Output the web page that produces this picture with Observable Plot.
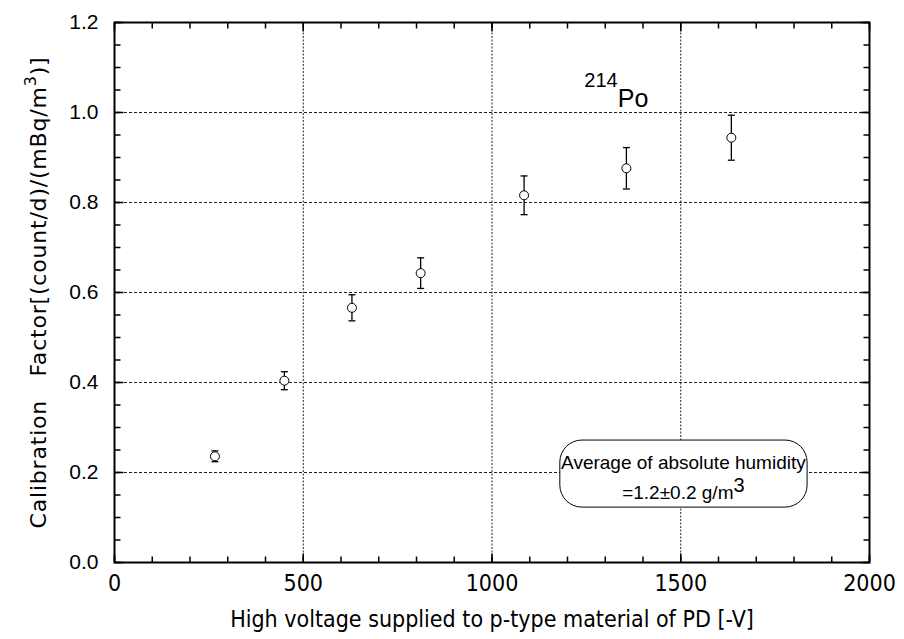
<!DOCTYPE html>
<html>
<head>
<meta charset="utf-8">
<script src="https://cdn.jsdelivr.net/npm/d3@7"></script>
<script src="https://cdn.jsdelivr.net/npm/@observablehq/plot@0.6"></script>
<style>
  html, body { margin: 0; padding: 0; background: #fff; }
  #chart svg { display: block; }
</style>
</head>
<body>
<div id="chart"></div>
<script>
// ---- data ----
const voltage = [266, 450, 629, 811, 1085, 1356, 1634];
const factor  = [0.236, 0.404, 0.566, 0.643, 0.816, 0.876, 0.944];
const errors  = [0.012, 0.020, 0.029, 0.034, 0.043, 0.046, 0.050];

const xMajor = [0, 500, 1000, 1500, 2000];
const xMinor = d3.range(0, 2001, 100);
const yMajor = [0, 0.2, 0.4, 0.6, 0.8, 1.0, 1.2];
const yMinor = d3.range(0, 1.2001, 0.05).map(v => +v.toFixed(2));
const xGrid = [500, 1000, 1500];
const yGrid = [0.2, 0.4, 0.6, 0.8, 1.0];

const xLabel = "High voltage supplied to p-type material of PD [-V]";
const yLabel = "Calibration   Factor[(count/d)/(mBq/m3)]";
const nuclide = [{x: 1340, y: 1.03, text: "214Po"}];
const noteBox = [{x1: 1181, x2: 1836, y1: 0.122, y2: 0.271}];
const noteLines = [
  {x: 1507, y: 0.222, text: "Average of absolute humidity"},
  {x: 1507, y: 0.154, text: "=1.2\u00B10.2 g/m3"}
];

const data = voltage.map((v, i) => ({x: v, y: factor[i], e: errors[i]}));

// ---- custom line-segment symbols (length = r in px) ----
const seg = (dx, dy) => ({draw(ctx, size) {
  const r = Math.sqrt(size / Math.PI);
  ctx.moveTo(0, 0); ctx.lineTo(dx * r, dy * r);
}});
const capSym = {draw(ctx, size) {
  const r = Math.sqrt(size / Math.PI);
  ctx.moveTo(-r, 0); ctx.lineTo(r, 0);
}};

const FONT = "'Liberation Sans', Arial, Helvetica, sans-serif";
const COND = "'DejaVu Sans Condensed', 'Liberation Sans Narrow', 'Liberation Sans', sans-serif";
const WIDE = "'DejaVu Sans', 'Liberation Sans', sans-serif";

const chart = Plot.plot({
  width: 904,
  height: 639,
  marginLeft: 114,
  marginRight: 35,
  marginTop: 22,
  marginBottom: 77,
  style: {fontFamily: FONT, fontSize: "20px", background: "#fff", color: "#000"},
  x: {domain: [0, 2000]},
  y: {domain: [0, 1.2]},
  marks: [
    Plot.ruleX(xGrid, {stroke: "#222", strokeWidth: 1, strokeDasharray: "2,1.5"}),
    Plot.ruleY(yGrid, {stroke: "#222", strokeWidth: 1, strokeDasharray: "3,2"}),
    Plot.rect(noteBox, {x1: "x1", x2: "x2", y1: "y1", y2: "y2", rx: 22,
      fill: "#fff", stroke: "#000", strokeWidth: 1}),
    Plot.frame({stroke: "#000", strokeWidth: 2}),
    Plot.axisX({ticks: xMajor, tickSize: 0, tickPadding: 12, tickFormat: d3.format("d"),
      label: xLabel, labelAnchor: "center", labelOffset: 64, labelArrow: "none",
      fontFamily: COND, fontSize: 23}),
    Plot.axisY({ticks: yMajor, tickSize: 0, tickPadding: 16, tickFormat: d3.format(".1f"),
      label: yLabel, labelAnchor: "center", labelOffset: 84, labelArrow: "none",
      fontFamily: FONT, fontSize: 21}),
    // inward ticks on all four sides
    Plot.dot(xMinor, {x: d => d, y: 0, symbol: seg(0, -1), r: 6, fill: "none", stroke: "#000", strokeWidth: 1.5}),
    Plot.dot(xMinor, {x: d => d, y: 1.2, symbol: seg(0, 1), r: 6, fill: "none", stroke: "#000", strokeWidth: 1.5}),
    Plot.dot(yMinor, {y: d => d, x: 0, symbol: seg(1, 0), r: 6, fill: "none", stroke: "#000", strokeWidth: 1.5}),
    Plot.dot(yMinor, {y: d => d, x: 2000, symbol: seg(-1, 0), r: 6, fill: "none", stroke: "#000", strokeWidth: 1.5}),
    Plot.dot(xMajor, {x: d => d, y: 0, symbol: seg(0, -1), r: 9, fill: "none", stroke: "#000", strokeWidth: 1.5}),
    Plot.dot(xMajor, {x: d => d, y: 1.2, symbol: seg(0, 1), r: 9, fill: "none", stroke: "#000", strokeWidth: 1.5}),
    Plot.dot(yMajor, {y: d => d, x: 0, symbol: seg(1, 0), r: 9, fill: "none", stroke: "#000", strokeWidth: 1.5}),
    Plot.dot(yMajor, {y: d => d, x: 2000, symbol: seg(-1, 0), r: 9, fill: "none", stroke: "#000", strokeWidth: 1.5}),
    // error bars
    Plot.ruleX(data, {x: "x", y1: d => d.y - d.e, y2: d => d.y + d.e, stroke: "#000", strokeWidth: 1.3}),
    Plot.dot(data, {x: "x", y: d => d.y - d.e, symbol: capSym, r: 3.5, fill: "none", stroke: "#000", strokeWidth: 1.3}),
    Plot.dot(data, {x: "x", y: d => d.y + d.e, symbol: capSym, r: 3.5, fill: "none", stroke: "#000", strokeWidth: 1.3}),
    Plot.dot(data, {x: "x", y: "y", r: 4.5, fill: "#fff", stroke: "#000", strokeWidth: 1}),
    // annotations
    Plot.text(nuclide, {x: "x", y: "y", text: "text", textAnchor: "end", fontSize: 25, fill: "#000"}),
    Plot.text(noteLines, {x: "x", y: "y", text: "text", fontSize: 19, fill: "#000"})
  ]
});

// superscripts (kept as real text)
d3.select(chart).selectAll("text").each(function() {
  const t = this.textContent;
  if (t === "214Po") {
    this.innerHTML = '<tspan font-size="20" dy="-20">214</tspan><tspan dy="20">Po</tspan>';
    this.setAttribute("text-anchor", "start");
    this.setAttribute("dx", "-36");
  } else if (t === "=1.2\u00B10.2 g/m3") {
    this.innerHTML = '=1.2\u00B10.2 g/m<tspan font-size="20" dy="-7">3</tspan>';
  } else if (t === yLabel) {
    this.setAttribute("font-family", WIDE);
    this.setAttribute("font-size", "22");
    this.setAttribute("letter-spacing", "0.8");
    this.innerHTML = 'Calibration\u00A0\u00A0\u00A0Factor[(count/d)/(mBq/m<tspan font-size="16" dy="-10">3</tspan><tspan dy="10">)]</tspan>';
  }
});

document.getElementById("chart").append(chart);
</script>
</body>
</html>
